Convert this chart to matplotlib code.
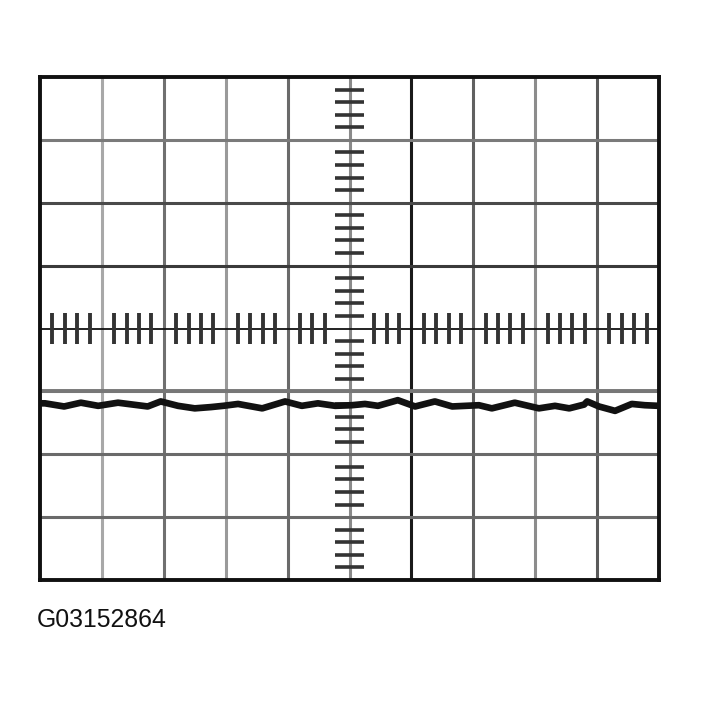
import matplotlib
matplotlib.use("Agg")
import matplotlib.pyplot as plt
import numpy as np

# Grid: 10 horizontal divisions x 8 vertical divisions
n_xdiv = 10
n_ydiv = 8
center_x = 5
center_y = 4
minor_per_div = 5

# Trace (in division units)
trace_x = [0, 0.08, 0.39, 0.66, 0.94, 1.26, 1.58, 1.74, 1.95, 2.23, 2.50, 2.76, 2.96,
           3.20, 3.31, 3.59, 3.96, 4.23, 4.49, 4.77, 5.04, 5.25, 5.46, 5.78, 6.06,
           6.38, 6.66, 7.09, 7.30, 7.67, 8.06, 8.32, 8.55, 8.79, 8.84, 9.03, 9.29,
           9.56, 9.77, 10]
trace_y = [2.81, 2.81, 2.76, 2.82, 2.77, 2.82, 2.78, 2.76, 2.84, 2.77, 2.73, 2.75, 2.77,
           2.80, 2.78, 2.73, 2.84, 2.77, 2.81, 2.77, 2.78, 2.80, 2.77, 2.86, 2.76,
           2.84, 2.76, 2.78, 2.73, 2.82, 2.73, 2.77, 2.73, 2.79, 2.84, 2.76, 2.69,
           2.80, 2.78, 2.77]

label_text = "G03152864"

# styles
vcolors = {1: "#a8a8a8", 2: "#707070", 3: "#9a9a9a", 4: "#6a6a6a", 5: "#8a8a8a",
           6: "#1a1a1a", 7: "#606060", 8: "#8c8c8c", 9: "#5a5a5a"}
hcolors = {1: "#6a6a6a", 2: "#6a6a6a", 3: "#7a7a7a", 5: "#3a3a3a", 6: "#4a4a4a", 7: "#7a7a7a"}

fig = plt.figure(figsize=(7.02, 7.04), dpi=100)
ax = fig.add_axes([40/702, (704-580)/704, 619/702, 503/704])
ax.set_xlim(0, n_xdiv)
ax.set_ylim(0, n_ydiv)
ax.set_xticks([])
ax.set_yticks([])
for s in ax.spines.values():
    s.set_linewidth(2.8)
    s.set_color("#111111")

for i, c in vcolors.items():
    ax.axvline(i, color=c, lw=2.2, zorder=1)
for j, c in hcolors.items():
    ax.axhline(j, color=c, lw=2.2, zorder=1)
ax.axhline(3, color="#777777", lw=2.8, zorder=1)
ax.axhline(center_y, color="#111111", lw=1.3, zorder=2)

# minor ticks on the center vertical line (horizontal marks)
for j in range(n_ydiv):
    for k in range(1, minor_per_div):
        y = j + k / minor_per_div
        ax.plot([center_x - 0.24, center_x + 0.24], [y, y], color="#333333", lw=2.6,
                solid_capstyle="butt", zorder=3)
# minor ticks on the center horizontal line (vertical marks)
for i in range(n_xdiv):
    for k in range(1, minor_per_div):
        x = i + k / minor_per_div
        if abs(x - center_x) < 0.25:
            continue
        ax.plot([x, x], [center_y - 0.24, center_y + 0.24], color="#333333", lw=2.8,
                solid_capstyle="butt", zorder=3)

ax.plot(trace_x, trace_y, color="#111111", lw=4.8, solid_joinstyle="round",
        solid_capstyle="round", zorder=4)

fig.text(37/702, 1 - 620/704, label_text, fontsize=17.8, family="Liberation Sans",
         va="center", ha="left", color="#111111")

fig.savefig("out.png", dpi=100)
